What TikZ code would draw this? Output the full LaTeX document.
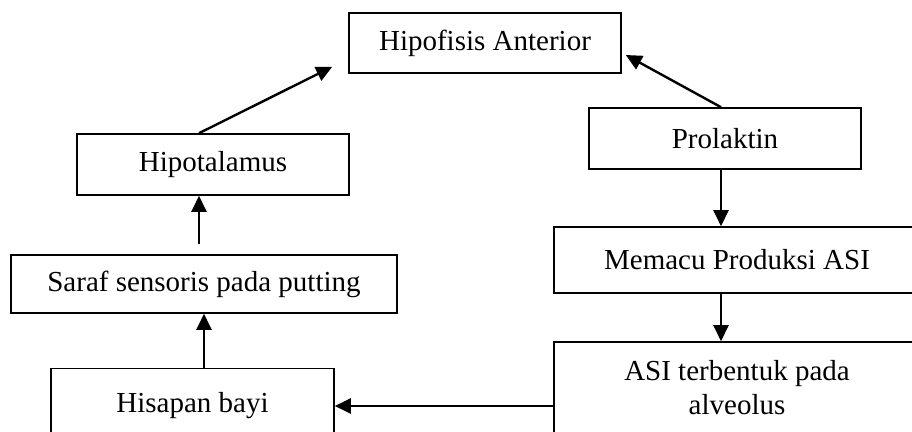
\documentclass[tikz,border=0pt]{standalone}
\usepackage{fontspec}
\setmainfont{Liberation Serif}
\usepackage{tikz}
\usetikzlibrary{arrows.meta, positioning}

\begin{document}
\begin{tikzpicture}[x=1pt, y=-1pt,
    box/.style={shape=rectangle, draw=black, line width=1.6pt, inner sep=0pt, align=center},
    flow/.style={-{Triangle[length=16pt,width=15pt]}, line width=2.4pt}]
    \fontsize{29pt}{34pt}\selectfont
    \clip (0,0) rectangle (912,431);

    \node[box, minimum width=272pt, minimum height=60pt] (ha) at (485,43) {Hipofisis Anterior};
      \node[box, minimum width=272pt, minimum height=61pt] (ht) at (213,164.5) {Hipotalamus};
      \node[box, minimum width=386pt, minimum height=58pt] (ss) at (204,284) {Saraf sensoris pada putting};
      \node[box, minimum width=283pt, minimum height=75pt] (hb) at (192.5,406) {Hisapan bayi};
      \node[box, minimum width=272pt, minimum height=61pt] (pr) at (725,138.5) {Prolaktin};
      \node[box, minimum width=366pt, minimum height=66pt] (mp) at (737,260) {Memacu Produksi ASI};
      \node[box, minimum width=366pt, minimum height=92pt] (asi) at (737,388) {ASI terbentuk pada\\alveolus};

      \draw[flow] ([xshift=-14pt]ht.north) -- ([xshift=-16pt,yshift=7pt]ha.south west);
      \draw[flow] ([xshift=-4pt]pr.north) -- ([xshift=4pt,yshift=-12pt]ha.east);
      \draw[flow] ([xshift=-4pt]pr.south) -- ([xshift=-16pt]mp.north);
      \draw[flow] ([xshift=-16pt]mp.south) -- ([xshift=-16pt]asi.north);
      \draw[flow] ([yshift=-18pt]asi.west) -- (hb.east);
      \draw[flow] ([xshift=11.5pt]hb.north) -- (ss.south);
      \draw[flow] ([xshift=-5pt,yshift=10pt]ss.north) -- ([xshift=-14pt]ht.south);
  \end{tikzpicture}
\end{document}
